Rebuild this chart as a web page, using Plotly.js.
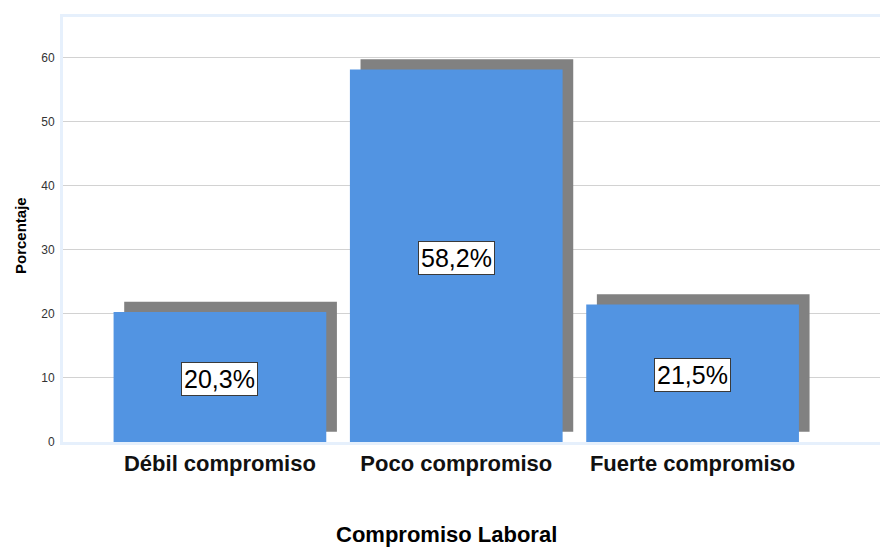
<!DOCTYPE html>
<html>
<head>
<meta charset="utf-8">
<script src="https://cdn.plot.ly/plotly-3.0.1.min.js"></script>
<style>
  html, body { margin: 0; padding: 0; background: #ffffff; }
  #chart { width: 880px; height: 547px; }
</style>
</head>
<body>
<div id="chart"></div>
<script>
// Compromiso Laboral: porcentaje por categoría
const categories = ['Débil compromiso', 'Poco compromiso', 'Fuerte compromiso'];
const percentages = [20.3, 58.2, 21.5];
const valueLabels = ['20,3%', '58,2%', '21,5%'];
const yTicks = [0, 10, 20, 30, 40, 50, 60];

const FONT = 'Arial, Liberation Sans, sans-serif';
const BAR_WIDTH = 0.9;
const SHADOW_DX = 0.045;   // shadow shift to the right (category units)
const SHADOW_DY = 1.6;     // shadow lift (percentage units)

// drop shadow behind each bar
const shadow = {
  type: 'bar',
  x: categories,
  y: percentages,
  base: percentages.map(() => SHADOW_DY),
  width: BAR_WIDTH,
  offset: -BAR_WIDTH / 2 + SHADOW_DX,
  marker: { color: '#818181', line: { width: 0 } },
  hoverinfo: 'skip',
  showlegend: false
};

const bars = {
  type: 'bar',
  x: categories,
  y: percentages,
  width: BAR_WIDTH,
  offset: -BAR_WIDTH / 2,
  marker: { color: '#5294e2', line: { width: 0 } },
  showlegend: false
};

const labelNotes = categories.map((c, i) => ({
  x: c,
  y: percentages[i] / 2,
  xref: 'x',
  yref: 'y',
  text: valueLabels[i],
  showarrow: false,
  yshift: -2,
  font: { family: FONT, size: 25, color: '#000000' },
  bgcolor: '#ffffff',
  bordercolor: '#3a3a3a',
  borderwidth: 1,
  borderpad: 2
}));

const titleNotes = [
  {
    xref: 'paper', yref: 'paper',
    x: -0.0526, y: 0.4847,
    xanchor: 'center', yanchor: 'middle',
    textangle: -90,
    text: '<b>Porcentaje</b>',
    showarrow: false,
    font: { family: FONT, size: 15, color: '#000000' }
  },
  {
    xref: 'paper', yref: 'paper',
    x: 0.470, y: -0.218,
    xanchor: 'center', yanchor: 'middle',
    text: '<b>Compromiso Laboral</b>',
    showarrow: false,
    font: { family: FONT, size: 22, color: '#000000' }
  }
];

const layout = {
  width: 880,
  height: 547,
  margin: { l: 63, r: 0, t: 17, b: 105 },
  paper_bgcolor: '#ffffff',
  plot_bgcolor: '#ffffff',
  barmode: 'overlay',
  font: { family: FONT },
  xaxis: {
    type: 'category',
    range: [-0.664, 2.793],
    showgrid: false,
    zeroline: false,
    showline: true,
    mirror: true,
    linecolor: '#e6f0fc',
    linewidth: 3,
    ticks: '',
    ticklabelstandoff: 0,
    tickfont: { family: FONT, size: 22, color: '#111111' },
    tickprefix: '<b>',
    ticksuffix: '</b>'
  },
  yaxis: {
    range: [0, 66.4],
    tickvals: yTicks,
    ticktext: yTicks.map(String),
    showgrid: true,
    gridcolor: '#d2d2d2',
    gridwidth: 1,
    zeroline: false,
    showline: true,
    linecolor: '#e6f0fc',
    linewidth: 3,
    ticks: '',
    ticklabelstandoff: 3,
    tickfont: { family: FONT, size: 12, color: '#333333' }
  },
  annotations: labelNotes.concat(titleNotes)
};

Plotly.newPlot('chart', [shadow, bars], layout, { staticPlot: true, displayModeBar: false });
</script>
</body>
</html>
